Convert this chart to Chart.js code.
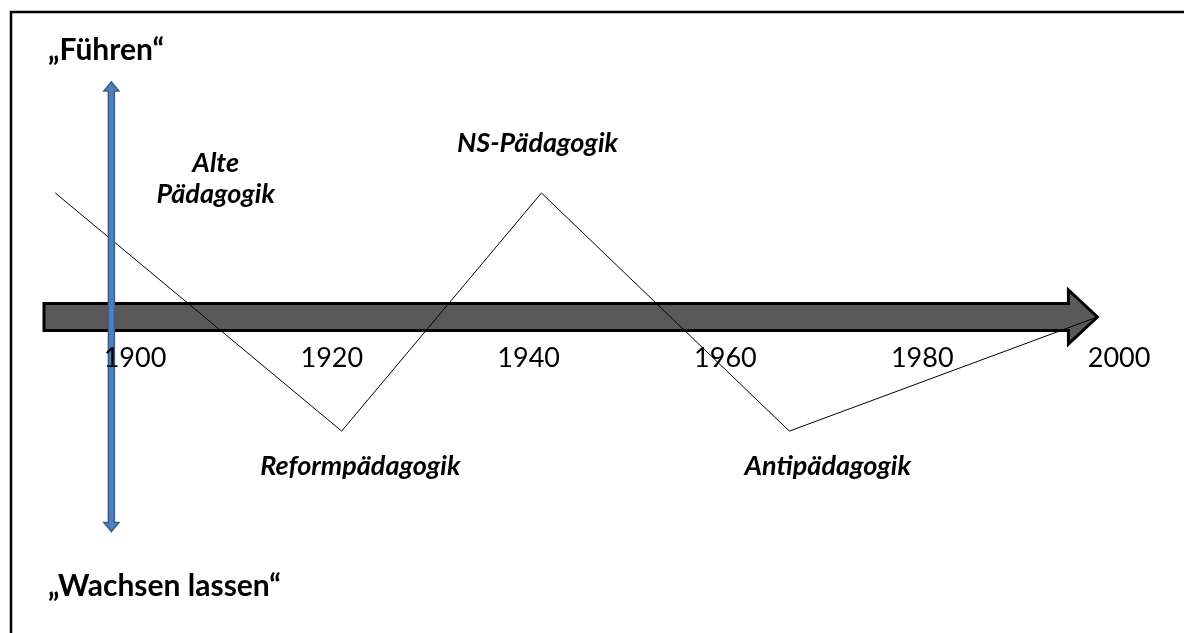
<!DOCTYPE html>
<html>
<head>
<meta charset="utf-8">
<script src="https://cdn.jsdelivr.net/npm/chart.js@4/dist/chart.umd.min.js"></script>
<style>
  html, body { margin: 0; padding: 0; background: #fff; }
  #wrap { width: 1184px; height: 633px; }
</style>
</head>
<body>
<div id="wrap"><canvas id="graph" width="1184" height="633"></canvas></div>
<script>
// Jahre auf der Zeitachse
const jahre = [1900, 1920, 1940, 1960, 1980, 2000];

// Verlauf zwischen "Führen" (+) und "Wachsen lassen" (-)
const verlaufJahr = [1891.9, 1921.0, 1941.3, 1966.5, 1997.8];
const verlaufWert = [1.0, -0.92, 1.0, -0.92, 0.0];

// Epochen (Beschriftung)
const epochenText = [["Alte", "Pädagogik"], ["NS-Pädagogik"], ["Reformpädagogik"], ["Antipädagogik"]];
const epochenJahr = [1908.2, 1940.9, 1922.9, 1970.4];
const epochenWert = [1.17, 1.33, -1.274, -1.274];

// Pole
const polText = ["„Führen“", "„Wachsen lassen“"];
const polWert = [2.07, -2.25];

// Zeitpfeil und Doppelpfeil
const zeitpfeil = [1890.75, 1997.8];
const polPfeilJahr = 1897.6;
const polPfeil = [1.895, -1.73];

const punkte = verlaufJahr.map((j, i) => ({ x: j, y: verlaufWert[i] }));

// Rahmen + grauer Zeitpfeil (unter der Linie)
const hintergrund = {
    id: 'hintergrund',
    beforeDatasetsDraw(chart) {
        const ctx = chart.ctx, x = chart.scales.x, y = chart.scales.y;
        ctx.save();
        // Rahmen oben und links
        ctx.strokeStyle = '#000';
        ctx.lineWidth = 2.5;
        ctx.beginPath();
        ctx.moveTo(11, chart.height);
        ctx.lineTo(11, 12);
        ctx.lineTo(chart.width, 12);
        ctx.stroke();

        // grauer Pfeil
        const x0 = x.getPixelForValue(zeitpfeil[0]);
        const x1 = x.getPixelForValue(zeitpfeil[1]);
        const y0 = y.getPixelForValue(0);
        const kopf = 29, halb = 13.5, kopfHalb = 27;
        ctx.beginPath();
        ctx.moveTo(x0, y0 - halb);
        ctx.lineTo(x1 - kopf, y0 - halb);
        ctx.lineTo(x1 - kopf, y0 - kopfHalb);
        ctx.lineTo(x1, y0);
        ctx.lineTo(x1 - kopf, y0 + kopfHalb);
        ctx.lineTo(x1 - kopf, y0 + halb);
        ctx.lineTo(x0, y0 + halb);
        ctx.closePath();
        ctx.fillStyle = '#595959';
        ctx.fill();
        ctx.lineWidth = 3;
        ctx.lineJoin = 'miter';
        ctx.strokeStyle = '#000';
        ctx.stroke();
        ctx.restore();
    }
};

// blauer Doppelpfeil + Texte
const vordergrund = {
    id: 'vordergrund',
    afterDatasetsDraw(chart) {
        const ctx = chart.ctx, x = chart.scales.x, y = chart.scales.y;
        ctx.save();
        const px = x.getPixelForValue(polPfeilJahr);
        const top = y.getPixelForValue(polPfeil[0]);
        const bot = y.getPixelForValue(polPfeil[1]);
        const s = 3, k = 7.5, kh = 9;
        ctx.beginPath();
        ctx.moveTo(px, top);
        ctx.lineTo(px + k, top + kh);
        ctx.lineTo(px + s, top + kh);
        ctx.lineTo(px + s, bot - kh);
        ctx.lineTo(px + k, bot - kh);
        ctx.lineTo(px, bot);
        ctx.lineTo(px - k, bot - kh);
        ctx.lineTo(px - s, bot - kh);
        ctx.lineTo(px - s, top + kh);
        ctx.lineTo(px - k, top + kh);
        ctx.closePath();
        ctx.fillStyle = '#4f81bd';
        ctx.fill();
        ctx.strokeStyle = '#385d8a';
        ctx.lineWidth = 1.5;
        ctx.stroke();

        ctx.fillStyle = '#000';
        // Jahreszahlen
        ctx.font = '27px Lato';
        ctx.textAlign = 'center';
        ctx.textBaseline = 'middle';
        jahre.forEach(j => ctx.fillText(String(j), x.getPixelForValue(j), y.getPixelForValue(0) + 41));

        // Epochen
        ctx.font = 'italic bold 27px Lato';
        ctx.textBaseline = 'alphabetic';
        epochenText.forEach((zeilen, i) => {
            const cx = x.getPixelForValue(epochenJahr[i]);
            const cy = y.getPixelForValue(epochenWert[i]);
            zeilen.forEach((t, n) => ctx.fillText(t, cx, cy + n * 31));
        });

        // Pole
        ctx.font = 'bold 30px Lato';
        ctx.textAlign = 'left';
        polText.forEach((t, i) => ctx.fillText(t, 48, y.getPixelForValue(polWert[i])));
        ctx.restore();
    }
};

new Chart(document.getElementById('graph').getContext('2d'), {
    type: 'scatter',
    data: {
        datasets: [{
            data: punkte,
            showLine: true,
            borderColor: '#000',
            borderWidth: 1,
            pointRadius: 0,
            tension: 0
        }]
    },
    options: {
        responsive: false,
        animation: false,
        layout: { padding: 0 },
        scales: {
            x: { type: 'linear', display: false, min: 1886.28, max: 2006.6 },
            y: { type: 'linear', display: false, min: -2.548, max: 2.556 }
        },
        plugins: { legend: { display: false }, tooltip: { enabled: false } }
    },
    plugins: [hintergrund, vordergrund]
});
</script>
</body>
</html>
